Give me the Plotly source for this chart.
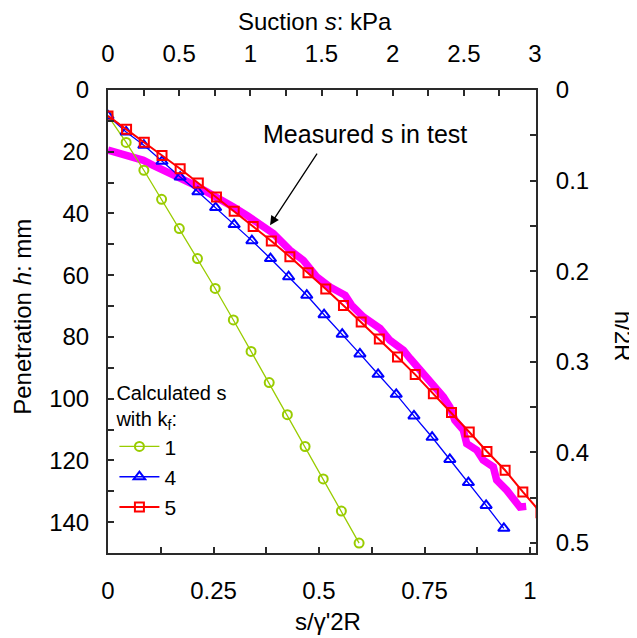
import plotly.graph_objects as go

# ---- data ----
kf1_x = [0, 0.043, 0.085, 0.127, 0.169, 0.212, 0.254, 0.297, 0.339, 0.382, 0.425, 0.467, 0.510, 0.553, 0.595]
kf1_h = [8.4, 17.0, 26.0, 35.4, 44.9, 54.6, 64.3, 74.5, 84.7, 94.8, 105.2, 115.5, 126.0, 136.4, 146.8]

kf4_x = [0, 0.043, 0.085, 0.128, 0.171, 0.213, 0.255, 0.299, 0.341, 0.385, 0.428, 0.471,
         0.512, 0.555, 0.597, 0.640, 0.683, 0.725, 0.768, 0.810, 0.854, 0.896, 0.938]
kf4_h = [8.4, 13.6, 17.9, 23.1, 28.2, 33.0, 38.1, 43.6, 48.8, 54.6, 60.5, 66.5,
         72.8, 79.1, 85.5, 92.1, 98.6, 105.6, 112.5, 119.7, 127.2, 134.6, 142.0]

kf5_x = [0, 0.044, 0.086, 0.128, 0.171, 0.214, 0.257, 0.299, 0.344, 0.387, 0.431, 0.474,
         0.516, 0.558, 0.600, 0.643, 0.686, 0.728, 0.771, 0.814, 0.856, 0.898, 0.941, 0.983, 1.026]
kf5_h = [8.4, 12.7, 16.9, 21.2, 25.5, 30.1, 34.7, 39.3, 44.2, 48.9, 54.0, 59.2,
         64.5, 69.8, 75.2, 80.7, 86.5, 92.2, 98.4, 104.5, 110.8, 117.1, 123.2, 130.2, 137.0]

meas_x = [0, 0.028, 0.060, 0.084, 0.107, 0.139, 0.171, 0.202, 0.234, 0.265, 0.297, 0.329,
          0.360, 0.392, 0.431, 0.463, 0.495, 0.526, 0.562, 0.577, 0.605, 0.645, 0.668, 0.700,
          0.716, 0.747, 0.771, 0.795, 0.810, 0.822, 0.842, 0.850, 0.874, 0.889, 0.913, 0.921,
          0.945, 0.960, 0.976, 0.991]
meas_h = [19.5, 20.6, 21.7, 22.8, 24.4, 26.3, 28.7, 30.6, 33.0, 35.2, 37.9, 40.6,
          43.3, 46.5, 51.9, 55.2, 60.6, 63.8, 66.5, 69.7, 73.5, 77.3, 81.1, 84.3,
          87.0, 91.9, 95.1, 99.5, 102.7, 107.0, 110.2, 114.6, 116.7, 119.9, 122.1, 126.4,
          129.7, 132.4, 135.1, 134.9]

legend_names = ["1", "4", "5"]

FONT = "Liberation Sans, Arial, Helvetica, sans-serif"
AX = "#2a2a2a"

fig = go.Figure()
fig.add_trace(go.Scatter(x=meas_x, y=meas_h, mode="lines", showlegend=False,
                         line=dict(color="#ff00ff", width=7.5), hoverinfo="skip"))
fig.add_trace(go.Scatter(x=kf1_x, y=kf1_h, mode="lines+markers", name=legend_names[0],
                         line=dict(color="#99cc00", width=1.3),
                         marker=dict(symbol="circle-open", size=9, color="#99cc00",
                                     line=dict(width=2, color="#99cc00"))))
fig.add_trace(go.Scatter(x=kf4_x, y=kf4_h, mode="lines+markers", name=legend_names[1],
                         line=dict(color="#0000ff", width=1.3),
                         marker=dict(symbol="triangle-up-open", size=10, color="#0000ff",
                                     line=dict(width=2, color="#0000ff"))))
fig.add_trace(go.Scatter(x=kf5_x, y=kf5_h, mode="lines+markers", name=legend_names[2],
                         line=dict(color="#ff0000", width=2),
                         marker=dict(symbol="square-open", size=9, color="#ff0000",
                                     line=dict(width=2, color="#ff0000"))))
# empty trace so the secondary (top / right) axes are drawn
fig.add_trace(go.Scatter(x=[], y=[], xaxis="x2", yaxis="y2", showlegend=False, hoverinfo="skip"))

common = dict(showline=True, linecolor=AX, linewidth=2, ticks="inside", ticklen=6,
              tickwidth=1.5, tickcolor=AX, showgrid=False, zeroline=False, automargin=False,
              tickfont=dict(size=24, color="black", family=FONT))

# page body adds an 8 px offset, so the figure is 8 px smaller and margins compensate
fig.update_layout(
    width=629, height=630,
    margin=dict(l=100, r=101, t=82, b=85, autoexpand=False),
    paper_bgcolor="white", plot_bgcolor="white",
    font=dict(family=FONT, color="black"),
    xaxis=dict(range=[0, 1.0142], dtick=0.25, tick0=0,
               minor=dict(dtick=0.125, ticks="inside", ticklen=6, tickwidth=1.5, tickcolor=AX),
               ticklabelstandoff=15, **common),
    xaxis2=dict(range=[0, 3.007], dtick=0.5, tick0=0, overlaying="x", side="top", anchor="y",
                minor=dict(dtick=0.25, ticks="inside", ticklen=6, tickwidth=1.5, tickcolor=AX),
                ticklabelstandoff=16, **common),
    yaxis=dict(range=[150, 0], dtick=20, tick0=0,
               minor=dict(dtick=10, ticks="inside", ticklen=6, tickwidth=1.5, tickcolor=AX),
               ticklabelstandoff=12, **common),
    yaxis2=dict(range=[0.511, 0], dtick=0.1, tick0=0, overlaying="y", side="right", anchor="x",
                minor=dict(dtick=0.05, ticks="inside", ticklen=6, tickwidth=1.5, tickcolor=AX),
                ticklabelstandoff=13, **common),
    legend=dict(x=0.015, y=0.386, xanchor="left", yanchor="top", bgcolor="rgba(0,0,0,0)",
                font=dict(size=21, family=FONT, color="black"), itemwidth=40,
                title=dict(text="Calculated s<br>with k<sub>f</sub>:",
                           font=dict(size=20, family=FONT, color="black"))),
)

# axis titles
fig.add_annotation(text="Suction <i>s</i>: kPa", xref="paper", yref="paper", x=0.484, y=1.147,
                   showarrow=False, xanchor="center", yanchor="middle", font=dict(size=24))
fig.add_annotation(text="s/γ'2R", xref="paper", yref="paper", x=0.5135, y=-0.149,
                   showarrow=False, xanchor="center", yanchor="middle", font=dict(size=24))
fig.add_annotation(text="Penetration <i>h</i>: mm", xref="paper", yref="paper", x=-0.1988, y=0.51,
                   showarrow=False, xanchor="center", yanchor="middle", textangle=-90,
                   font=dict(size=24))
fig.add_annotation(text="h/2R", xref="paper", yref="paper", x=1.2047, y=0.468,
                   showarrow=False, xanchor="center", yanchor="middle", textangle=90,
                   font=dict(size=24))

# measured label + arrow
fig.add_annotation(text="Measured s in test", xref="x", yref="y", x=0.609, y=14.4,
                   showarrow=False, xanchor="center", yanchor="middle", font=dict(size=25))
fig.add_annotation(text="", xref="x", yref="y", x=0.384, y=43.8, ax=48, ay=-73,
                   showarrow=True, arrowhead=2, arrowsize=1.4, arrowwidth=1.3, arrowcolor="black")

fig.write_html("out.html")
